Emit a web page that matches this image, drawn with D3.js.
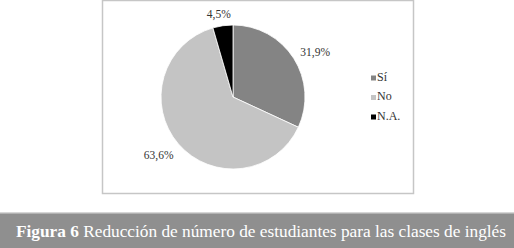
<!DOCTYPE html>
<html>
<head>
<meta charset="utf-8">
<title>Figura 6</title>
<script src="https://cdn.jsdelivr.net/npm/d3@7"></script>
<style>
  body { margin: 0; background: #fff; }
  svg text { font-family: "Liberation Serif", "Times New Roman", serif; }
</style>
</head>
<body>
<script>
var categories = ["Sí", "No", "N.A."];
var values = [31.9, 63.6, 4.5];
var labels = ["31,9%", "63,6%", "4,5%"];
var colors = ["#848484", "#c4c4c4", "#000000"];

var width = 514, height = 248;
var cx = 233, cy = 97, r = 72;

var svg = d3.select("body").append("svg")
    .attr("width", width)
    .attr("height", height);

// chart frame
svg.append("rect")
    .attr("x", 102.5).attr("y", 0.5)
    .attr("width", 311).attr("height", 193)
    .attr("fill", "#fff")
    .attr("stroke", "#c6c6c6")
    .attr("stroke-width", 1.5);

var pie = d3.pie().sort(null).value(function(d) { return d; });
var arcs = pie(values);
var arc = d3.arc().innerRadius(0).outerRadius(r);

var g = svg.append("g").attr("transform", "translate(" + cx + "," + cy + ")");
g.selectAll("path").data(arcs).enter().append("path")
    .attr("d", arc)
    .attr("fill", function(d, i) { return colors[i]; })
    .attr("stroke", "#fff")
    .attr("stroke-width", 0.8);

// data labels placed outside the slices
var labelArc = d3.arc().innerRadius(r + 22).outerRadius(r + 22);
var labelOffsets = [[3, 7], [-3, -2], [-1, 11]];
g.selectAll("text.lbl").data(arcs).enter().append("text")
    .attr("class", "lbl")
    .attr("x", function(d, i) { return labelArc.centroid(d)[0] + labelOffsets[i][0]; })
    .attr("y", function(d, i) { return labelArc.centroid(d)[1] + labelOffsets[i][1]; })
    .attr("text-anchor", "middle")
    .attr("dominant-baseline", "middle")
    .attr("font-size", 11.5)
    .attr("fill", "#333")
    .text(function(d, i) { return labels[i]; });

// legend
var ly = d3.scalePoint().domain(categories).range([78, 117]);
var leg = svg.append("g").selectAll("g").data(categories).enter().append("g")
    .attr("transform", function(d) { return "translate(371," + ly(d) + ")"; });
leg.append("rect")
    .attr("x", 0).attr("y", -2.5)
    .attr("width", 5).attr("height", 5)
    .attr("fill", function(d, i) { return colors[i]; });
leg.append("text")
    .attr("x", 6).attr("y", 0)
    .attr("dominant-baseline", "middle")
    .attr("font-size", 12)
    .attr("fill", "#333")
    .text(function(d) { return d; });

// caption bar
svg.append("rect")
    .attr("x", 0).attr("y", 213)
    .attr("width", width).attr("height", 35)
    .attr("fill", "#8f8f8f");
svg.append("rect")
    .attr("x", 0).attr("y", 212)
    .attr("width", width).attr("height", 1.5)
    .attr("fill", "#d6d6d6");
var cap = svg.append("text")
    .attr("x", 16).attr("y", 237)
    .attr("font-size", 17.3)
    .attr("fill", "#fff");
cap.append("tspan").attr("font-weight", "bold").text("Figura 6");
cap.append("tspan").text(" Reducción de número de estudiantes para las clases de inglés");
</script>
</body>
</html>
